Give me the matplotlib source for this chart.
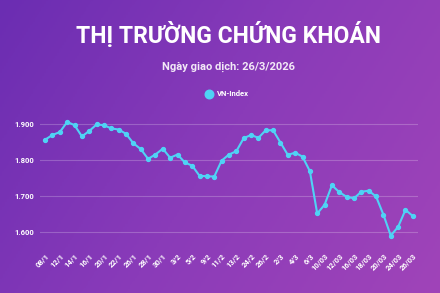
import matplotlib
matplotlib.use('Agg')
import matplotlib.pyplot as plt
import numpy as np
from matplotlib.colors import LinearSegmentedColormap

plt.rcParams['font.family'] = ['Roboto', 'DejaVu Sans']

# data (VN-Index closing values)
dates = ['08/1', '09/1', '12/1', '13/1', '14/1', '15/1', '16/1', '19/1', '20/1', '21/1',
         '22/1', '23/1', '26/1', '27/1', '28/1', '29/1', '30/1', '2/2', '3/2', '4/2',
         '5/2', '6/2', '9/2', '10/2', '11/2', '12/2', '13/2', '23/2', '24/2', '25/2',
         '26/2', '27/2', '2/3', '3/3', '4/3', '5/3', '6/3', '9/3', '10/03', '11/03',
         '12/03', '13/03', '16/03', '17/03', '18/03', '19/03', '20/03', '23/03', '24/03',
         '25/03', '26/03']
vnindex = [1856, 1869, 1877, 1905, 1896, 1865, 1880, 1898, 1896, 1887,
           1884, 1872, 1846, 1830, 1803, 1815, 1831, 1806, 1815, 1793,
           1784, 1756, 1755, 1754, 1798, 1815, 1824, 1860, 1869, 1861,
           1882, 1882, 1848, 1814, 1820, 1809, 1769, 1652, 1676, 1730,
           1711, 1698, 1694, 1712, 1715, 1699, 1649, 1591, 1615, 1662,
           1645]
yticks = [1600, 1700, 1800, 1900]

fig = plt.figure(figsize=(4.4, 2.93), dpi=100)

# purple gradient background
bg = fig.add_axes([0, 0, 1, 1])
cmap = LinearSegmentedColormap.from_list('bg', ['#6b2db2', '#8a3bb9', '#a044b8'])
gx, gy = np.meshgrid(np.linspace(0, 1, 200), np.linspace(0, 1, 200))
bg.imshow(0.7 * gx + 0.3 * gy, cmap=cmap, aspect='auto', extent=[0, 1, 0, 1], origin='upper')
bg.set_axis_off()

fig.text(0.52, 0.88, 'THỊ TRƯỜNG CHỨNG KHOÁN', color='white', fontsize=16.5,
         fontweight='bold', ha='center', va='center')
fig.text(0.52, 0.77, 'Ngày giao dịch: 26/3/2026', color='#f3e9f7', fontsize=8,
         fontweight='bold', ha='center', va='center')

ax = fig.add_axes([0.0909, 0.1577, 0.859, 0.4447])
ax.patch.set_alpha(0)
x = np.arange(len(vnindex))
ax.plot(x, vnindex, color='#4fd3f5', lw=1.5, marker='o', ms=2.8, label='VN-Index')
ax.set_xlim(-0.7, len(vnindex) - 0.3)
ax.set_ylim(1560, 1920)
ax.set_yticks(yticks)
ax.set_yticklabels([f'{v:,}'.replace(',', '.') for v in yticks], color='white',
                   fontsize=5.5, fontweight='bold')
ax.set_xticks(x[::2])
ax.set_xticklabels(dates[::2], rotation=45, ha='right', rotation_mode='anchor',
                   color='white', fontsize=5.5, fontweight='bold')
ax.tick_params(length=0, pad=4)
ax.grid(axis='y', color='white', alpha=0.22, lw=0.8)
for s in ax.spines.values():
    s.set_visible(False)

leg = fig.legend(loc='center', bbox_to_anchor=(0.52, 0.68), frameon=False,
                 fontsize=5.5, handlelength=0, handletextpad=1.1, markerscale=2.2)
for t in leg.get_texts():
    t.set_color('white')
    t.set_fontweight('bold')

fig.savefig('out.png', dpi=100)
